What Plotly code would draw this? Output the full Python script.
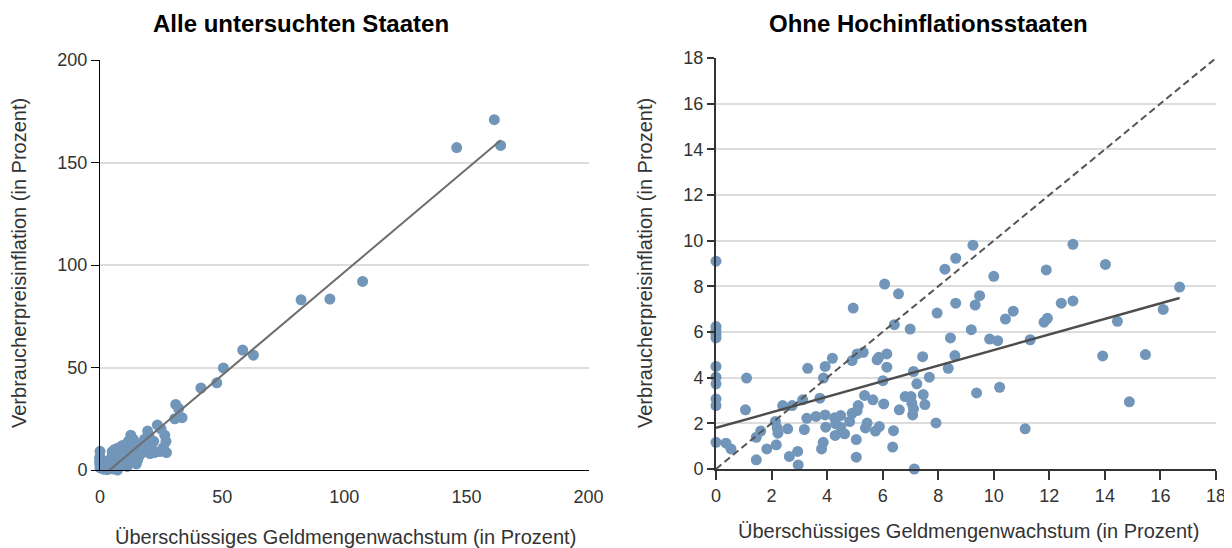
import plotly.graph_objects as go

# ---------------- data ----------------
# Right panel: countries without high inflation (excess money growth, CPI inflation)
low_x = [0.0, 0.0, 0.0, 0.0, 0.0, 0.0, 0.0, 0.0, 0.0, 0.0, 0.0, 0.36, 0.54, 1.10, 1.06, 1.45,
         1.45, 1.61, 1.83, 2.17, 2.14, 2.20, 2.23, 2.40, 2.74, 2.58, 2.64, 2.94, 2.96, 3.12,
         3.18, 3.30, 3.27, 3.60, 3.74, 3.87, 3.93, 3.93, 3.95, 3.86, 3.80, 4.19, 4.27, 4.49,
         4.31, 4.49, 4.29, 4.63, 4.81, 4.90, 5.08, 5.12, 4.94, 4.90, 5.08, 5.30, 5.05, 5.05,
         5.35, 5.44, 5.38, 5.65, 5.80, 5.86, 5.74, 5.88, 6.04, 6.01, 6.07, 6.15, 6.15, 6.42,
         6.57, 6.39, 6.36, 6.60, 6.81, 7.02, 6.99, 7.11, 7.23, 7.05, 7.11, 7.08, 7.14, 7.44,
         7.46, 7.52, 7.68, 7.92, 7.96, 8.24, 8.44, 8.36, 8.63, 8.63, 8.60, 9.25, 9.33, 9.49,
         10.00, 9.19, 9.85, 10.14, 10.42, 10.70, 11.31, 9.38, 10.21, 11.13, 11.81, 11.93,
         11.89, 12.43, 12.85, 12.85, 14.02, 13.92, 14.45, 14.88, 15.46, 16.10, 16.69]
low_y = [9.10, 6.24, 6.06, 5.89, 5.74, 4.49, 4.02, 3.73, 3.07, 2.78, 1.17, 1.13, 0.88, 3.98, 2.59, 0.40,
         1.39, 1.66, 0.88, 1.06, 2.08, 1.80, 1.57, 2.78, 2.78, 1.76, 0.55, 0.77, 0.18, 3.03,
         1.73, 4.41, 2.22, 2.30, 3.10, 3.98, 4.49, 2.37, 1.83, 1.17, 0.88, 4.85, 2.24, 2.34,
         1.98, 1.83, 1.47, 1.54, 2.08, 2.44, 2.56, 2.78, 7.05, 4.75, 5.04, 5.11, 1.29, 0.52,
         3.22, 2.01, 1.80, 3.03, 4.78, 4.89, 1.66, 1.86, 2.85, 3.87, 8.10, 5.04, 4.46, 6.32,
         7.67, 1.68, 0.96, 2.59, 3.17, 3.17, 6.13, 4.27, 3.73, 2.88, 2.63, 2.37, 0.00, 4.92,
         3.26, 2.82, 4.02, 2.02, 6.83, 8.75, 5.74, 4.41, 9.23, 7.26, 4.97, 9.80, 7.18, 7.59,
         8.44, 6.10, 5.69, 5.62, 6.57, 6.91, 5.66, 3.33, 3.58, 1.76, 6.43, 6.60,
         8.72, 7.26, 9.84, 7.36, 8.96, 4.95, 6.47, 2.94, 5.01, 6.99, 7.97]

# Additional countries only in the left panel (moderate and high inflation)
mid_x = [31.0, 32.2, 33.6, 30.6, 23.5, 25.0, 26.5, 27.0, 26.0, 24.5, 27.2, 19.5, 20.2, 18.2,
         22.0, 21.0, 12.6, 13.6, 11.6, 15.0, 16.2, 17.0, 14.2, 18.0, 19.2, 20.5, 22.3, 15.2,
         12.2, 10.6, 9.2, 8.0, 6.0, 5.0, 7.0]
mid_y = [32.0, 30.0, 25.5, 25.0, 22.0, 20.0, 17.0, 14.0, 11.0, 9.0, 8.5, 19.0, 16.0, 15.0,
         14.0, 12.0, 17.0, 15.0, 14.0, 13.0, 11.0, 12.0, 10.0, 10.0, 9.0, 8.0, 8.5, 8.0,
         9.0, 11.0, 12.0, 11.0, 10.0, 9.0, 10.5]
high_x = [161.4, 146.0, 164.0, 107.5, 94.1, 82.3, 62.8, 58.4, 50.5, 47.8, 41.3]
high_y = [170.9, 157.3, 158.3, 92.0, 83.4, 83.0, 56.0, 58.5, 49.8, 42.5, 40.0]

# Regression lines (intercept, slope, x-extent)
left_fit = {"intercept": -4.0, "slope": 1.005, "x_end": 164.0}
right_fit = {"intercept": 1.80, "slope": 0.341, "x_end": 16.69}
diag_end = 18

left_ticks = [0, 50, 100, 150, 200]
right_ticks = list(range(0, 19, 2))

left_title = "Alle untersuchten Staaten"
right_title = "Ohne Hochinflationsstaaten"
x_title = "Überschüssiges Geldmengenwachstum (in Prozent)"
y_title = "Verbraucherpreisinflation (in Prozent)"

# ---------------- figure ----------------
OFF = 8                      # default page margin of the HTML body
W, H = 1232 - OFF, 548 - OFF


def px(x):
    return (x - OFF) / W


def py(y):
    return 1 - (y - OFF) / H


dot = "#7296ba"
FONT = "Liberation Sans, Helvetica Neue, Arial, sans-serif"
txt = "#333333"

all_x = low_x + mid_x + high_x
all_y = low_y + mid_y + high_y

fig = go.Figure()
fig.add_trace(go.Scatter(x=all_x, y=all_y, mode="markers", xaxis="x", yaxis="y",
                         marker=dict(color=dot, size=11, line=dict(width=0)),
                         cliponaxis=False, showlegend=False))
lx = [0, left_fit["x_end"]]
fig.add_trace(go.Scatter(x=lx, y=[left_fit["intercept"] + left_fit["slope"] * v for v in lx],
                         mode="lines", xaxis="x", yaxis="y",
                         line=dict(color="#6e6e6e", width=2), showlegend=False))

fig.add_trace(go.Scatter(x=low_x, y=low_y, mode="markers", xaxis="x2", yaxis="y2",
                         marker=dict(color=dot, size=11, line=dict(width=0)),
                         cliponaxis=False, showlegend=False))
fig.add_trace(go.Scatter(x=[0, diag_end], y=[0, diag_end], mode="lines", xaxis="x2", yaxis="y2",
                         line=dict(color="#555555", width=2, dash="7px,4px"), showlegend=False))
rx = [0, right_fit["x_end"]]
fig.add_trace(go.Scatter(x=rx, y=[right_fit["intercept"] + right_fit["slope"] * v for v in rx],
                         mode="lines", xaxis="x2", yaxis="y2",
                         line=dict(color="#4d4d4d", width=2.5), showlegend=False))

tickfont = dict(family=FONT, size=18, color=txt)
common = dict(zeroline=False, automargin=False, fixedrange=True, tickfont=tickfont)

fig.update_layout(
    width=W, height=H,
    margin=dict(l=0, r=0, t=0, b=0),
    paper_bgcolor="white", plot_bgcolor="white",
    font=dict(family=FONT, color=txt),
    xaxis=dict(domain=[px(100), px(588.6)], range=[0, 200], tickvals=left_ticks,
               showgrid=False, showline=True, linecolor="black", linewidth=1,
               ticks="outside", ticklen=10, tickcolor="rgba(0,0,0,0)", anchor="y", **common),
    yaxis=dict(domain=[py(470), py(60)], range=[0, 200], tickvals=left_ticks,
               showgrid=True, gridcolor="#dddddd", gridwidth=1.5,
               showline=True, linecolor="black", linewidth=1,
               ticks="outside", ticklen=8, tickcolor="black", anchor="x", **common),
    xaxis2=dict(domain=[px(716), px(1216)], range=[0, 18], tickvals=right_ticks,
                showgrid=False, showline=True, linecolor="#333333", linewidth=2,
                ticks="outside", ticklen=9, tickcolor="#333333", tickwidth=1.5,
                anchor="y2", **common),
    yaxis2=dict(domain=[py(469), py(58)], range=[0, 18], tickvals=right_ticks,
                showgrid=True, gridcolor="#dddddd", gridwidth=1.5,
                showline=True, linecolor="#333333", linewidth=2,
                ticks="outside", ticklen=7, tickcolor="#333333", tickwidth=1.5,
                anchor="x2", **common),
)

ann_title = dict(family=FONT, size=24, color="black")
ann_axis = dict(family=FONT, size=20, color=txt)
fig.add_annotation(text="<b>" + left_title + "</b>", x=px(301), y=py(23), xref="paper", yref="paper",
                   showarrow=False, xanchor="center", yanchor="middle", font=ann_title)
fig.add_annotation(text="<b>" + right_title + "</b>", x=px(928), y=py(23), xref="paper", yref="paper",
                   showarrow=False, xanchor="center", yanchor="middle", font=ann_title)
fig.add_annotation(text=x_title, x=px(345), y=py(537), xref="paper", yref="paper",
                   showarrow=False, xanchor="center", yanchor="middle", font=ann_axis)
fig.add_annotation(text=x_title, x=px(968), y=py(531), xref="paper", yref="paper",
                   showarrow=False, xanchor="center", yanchor="middle", font=ann_axis)
fig.add_annotation(text=y_title, x=px(19), y=py(263), xref="paper", yref="paper", textangle=-90,
                   showarrow=False, xanchor="center", yanchor="middle", font=ann_axis)
fig.add_annotation(text=y_title, x=px(645), y=py(263), xref="paper", yref="paper", textangle=-90,
                   showarrow=False, xanchor="center", yanchor="middle", font=ann_axis)

fig.write_html("out.html")
